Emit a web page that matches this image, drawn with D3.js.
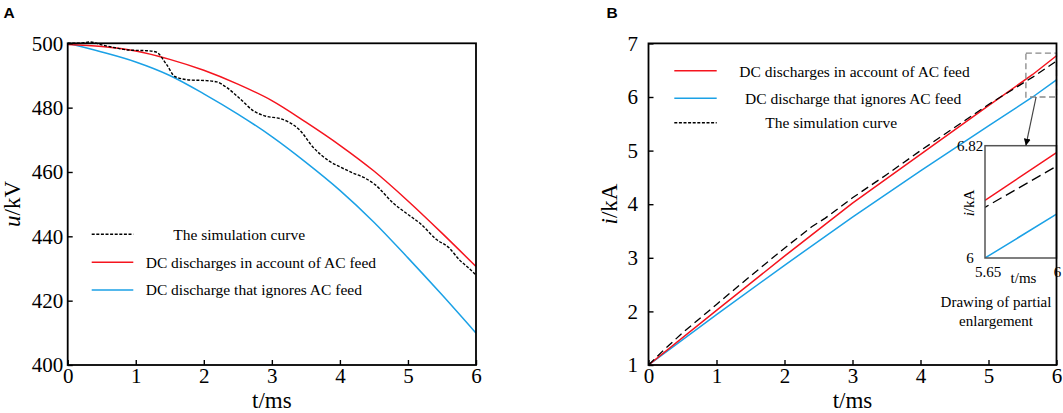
<!DOCTYPE html>
<html>
<head>
<meta charset="utf-8">
<script src="https://cdn.jsdelivr.net/npm/d3@7"></script>
<style>
  html, body { margin: 0; padding: 0; background: #fff; }
  svg { display: block; }
  text { font-family: "Liberation Serif", "Times New Roman", serif; fill: #000; }
</style>
</head>
<body>
<svg id="chart" width="1063" height="413"></svg>
<script>
// ---------------- DATA ----------------
// Panel A: voltage u (kV) vs t (ms)
const tA = [0, 0.5, 1, 1.5, 2, 2.5, 3, 3.5, 4, 4.5, 5, 5.5, 6];
const uWithAC = [499.6, 499.0, 497.6, 495.0, 491.6, 487.3, 482.2, 475.5, 468.3, 460.3, 451.0, 441.0, 430.6];
const uIgnoreAC = [500.0, 497.3, 494.2, 490.0, 484.3, 478.0, 471.0, 463.0, 454.3, 444.4, 433.3, 421.8, 409.9];
const tSimA = [0, 0.15, 0.33, 0.5, 0.7, 0.9, 1.16, 1.3, 1.45, 1.58, 1.8, 2.04, 2.19, 2.34, 2.53, 2.73, 2.92, 3.12, 3.25, 3.41, 3.61, 3.85, 4.0, 4.2, 4.35, 4.52, 4.78, 5.0, 5.18, 5.42, 5.6, 5.76, 5.9, 6.0];
const uSim = [500.0, 500.0, 500.4, 499.5, 498.6, 497.9, 497.7, 497.3, 493.5, 489.6, 488.6, 488.4, 488.0, 486.2, 482.8, 479.0, 477.3, 476.6, 475.5, 473.0, 467.6, 463.3, 461.6, 459.6, 458.3, 456.0, 450.4, 446.8, 444.0, 439.0, 436.5, 432.6, 430.0, 428.0];

// Panel B: current i (kA) vs t (ms)
const tB = [0, 1, 2, 3, 4, 5, 5.65, 6];
const iWithAC = [1.0, 2.02, 3.03, 4.02, 4.93, 5.84, 6.42, 6.77];
const iIgnoreAC = [1.0, 1.94, 2.86, 3.76, 4.62, 5.46, 6.0, 6.32];
const tSimB = [0, 0.2, 0.5, 1, 1.5, 2, 2.4, 2.6, 3, 3.5, 4, 4.5, 5, 5.65, 6];
const iSim = [1.0, 1.25, 1.6, 2.13, 2.66, 3.18, 3.58, 3.74, 4.12, 4.55, 5.0, 5.43, 5.86, 6.37, 6.67];

// Ticks
const tTicks = [0, 1, 2, 3, 4, 5, 6];
const uTicks = [400, 420, 440, 460, 480, 500];
const iTicks = [1, 2, 3, 4, 5, 6, 7];
const insetTTicks = [5.65, 6];
const insetITicks = [6, 6.82];
const zoomBoxT = [5.55, 6];
const zoomBoxI = [6, 6.82];

// Legends
const legendA = ["The simulation curve", "DC discharges in account of AC feed", "DC discharge that ignores AC feed"];
const legendB = ["DC discharges in account of AC feed", "DC discharge that ignores AC feed", "The simulation curve"];

// ---------------- DRAW ----------------
const RED = "#f5141e", BLUE = "#1ba1e6";
const svg = d3.select("#chart");
const defs = svg.append("defs");
defs.append("marker").attr("id", "arrow").attr("viewBox", "0 0 10 10")
  .attr("refX", 10).attr("refY", 5).attr("markerWidth", 7).attr("markerHeight", 7)
  .attr("orient", "auto-start-reverse").attr("markerUnits", "userSpaceOnUse")
  .append("path").attr("d", "M0,0 L10,5 L0,10 z").attr("fill", "#000");

function zip(ts, vs) { return ts.map((t, k) => [t, vs[k]]); }

function drawAxes(g, x, y, yTicks, ySpacing) {
  const [x0, x1] = x.range(), [y0, y1] = y.range();
  const xa = g.append("g").attr("transform", `translate(0,${y0})`)
    .call(d3.axisBottom(x).tickValues(tTicks).tickSizeInner(-5).tickSizeOuter(0).tickPadding(3).tickFormat(d3.format("d")));
  const ya = g.append("g").attr("transform", `translate(${x0},0)`)
    .call(d3.axisLeft(y).tickValues(yTicks).tickSizeInner(-5).tickSizeOuter(0).tickPadding(ySpacing).tickFormat(d3.format("d")));
  [xa, ya].forEach(a => {
    a.select(".domain").remove();
    a.selectAll("line").attr("stroke", "#000").attr("stroke-width", 1.4);
    a.selectAll("text").attr("font-family", "Liberation Serif").attr("font-size", 21).attr("fill", "#000");
  });
  g.append("rect").attr("x", x0).attr("y", y1).attr("width", x1 - x0).attr("height", y0 - y1)
    .attr("fill", "none").attr("stroke", "#000").attr("stroke-width", 1.8);
}

// ----- Panel A -----
const xA = d3.scaleLinear().domain([0, 6]).range([67.7, 476]);
const yA = d3.scaleLinear().domain([400, 500]).range([365, 43.3]);
const gA = svg.append("g");
defs.append("clipPath").attr("id", "clipA").append("rect")
  .attr("x", 67.7).attr("y", 38).attr("width", 408.3).attr("height", 327);
const lineA = d3.line().x(d => xA(d[0])).y(d => yA(d[1])).curve(d3.curveMonotoneX);
const cA = gA.append("g").attr("clip-path", "url(#clipA)");
cA.append("path").attr("d", lineA(zip(tA, uIgnoreAC))).attr("fill", "none").attr("stroke", BLUE).attr("stroke-width", 1.5);
cA.append("path").attr("d", lineA(zip(tA, uWithAC))).attr("fill", "none").attr("stroke", RED).attr("stroke-width", 1.5);
cA.append("path").attr("d", lineA(zip(tSimA, uSim))).attr("fill", "none").attr("stroke", "#000").attr("stroke-width", 1.4).attr("stroke-dasharray", "3,1.6");
drawAxes(gA, xA, yA, uTicks, 4.4);

// Legend A
const legA = gA.append("g");
const legAStyles = [{c: "#000", dash: "3,1.6"}, {c: RED, dash: null}, {c: BLUE, dash: null}];
const legAY = [234.3, 262.3, 290];
const legATextX = [173.3, 145.7, 145.7];
legendA.forEach((name, k) => {
  legA.append("line").attr("x1", 91.7).attr("x2", 133.3).attr("y1", legAY[k]).attr("y2", legAY[k])
    .attr("stroke", legAStyles[k].c).attr("stroke-width", 1.5).attr("stroke-dasharray", legAStyles[k].dash);
  legA.append("text").attr("x", legATextX[k]).attr("y", legAY[k] + 5.3).attr("font-size", 15.5).text(name);
});

// Axis titles A
gA.append("text").attr("x", 271.9).attr("y", 408).attr("text-anchor", "middle").attr("font-size", 23).text("t/ms");
gA.append("text").attr("transform", "translate(20,204) rotate(-90)").attr("text-anchor", "middle").attr("font-size", 23)
  .call(t => { t.append("tspan").attr("font-style", "italic").text("u"); t.append("tspan").text("/kV"); });

// Panel label A
svg.append("text").attr("x", 3.5).attr("y", 18.3).attr("font-family", "Liberation Sans, Arial, sans-serif")
  .attr("font-weight", "bold").attr("font-size", 15.5).style("font-family", "'Liberation Sans', Arial, sans-serif").text("A");

// ----- Panel B -----
const xB = d3.scaleLinear().domain([0, 6]).range([648.5, 1056.5]);
const yB = d3.scaleLinear().domain([1, 7]).range([365, 43.4]);
const gB = svg.append("g");
defs.append("clipPath").attr("id", "clipB").append("rect")
  .attr("x", 648.5).attr("y", 43.4).attr("width", 408).attr("height", 321.6);
const lineB = d3.line().x(d => xB(d[0])).y(d => yB(d[1]));
const cB = gB.append("g").attr("clip-path", "url(#clipB)");
cB.append("path").attr("d", lineB(zip(tB, iIgnoreAC))).attr("fill", "none").attr("stroke", BLUE).attr("stroke-width", 1.5);
cB.append("path").attr("d", lineB(zip(tB, iWithAC))).attr("fill", "none").attr("stroke", RED).attr("stroke-width", 1.5);
cB.append("path").attr("d", lineB(zip(tSimB, iSim))).attr("fill", "none").attr("stroke", "#000").attr("stroke-width", 1.3).attr("stroke-dasharray", "8,4.5");

// Zoom box
gB.append("rect").attr("x", xB(zoomBoxT[0])).attr("y", yB(zoomBoxI[1]))
  .attr("width", xB(zoomBoxT[1]) - xB(zoomBoxT[0])).attr("height", yB(zoomBoxI[0]) - yB(zoomBoxI[1]))
  .attr("fill", "none").attr("stroke", "#888").attr("stroke-width", 1.3).attr("stroke-dasharray", "6,3.5");

// Inset
const xI = d3.scaleLinear().domain([insetTTicks[0], insetTTicks[1]]).range([985, 1056.5]);
const yI = d3.scaleLinear().domain([insetITicks[0], insetITicks[1]]).range([258, 145.7]);
const gI = gB.append("g");
gI.append("rect").attr("x", 985).attr("y", 145.7).attr("width", 71.5).attr("height", 112.3).attr("fill", "#fff");
defs.append("clipPath").attr("id", "clipI").append("rect").attr("x", 985).attr("y", 145.7).attr("width", 71.5).attr("height", 112.3);
const lineI = d3.line().x(d => xI(d[0])).y(d => yI(d[1]));
const cI = gI.append("g").attr("clip-path", "url(#clipI)");
cI.append("path").attr("d", lineI(zip(tB, iIgnoreAC))).attr("fill", "none").attr("stroke", BLUE).attr("stroke-width", 1.5);
cI.append("path").attr("d", lineI(zip(tB, iWithAC))).attr("fill", "none").attr("stroke", RED).attr("stroke-width", 1.5);
cI.append("path").attr("d", lineI(zip(tSimB, iSim))).attr("fill", "none").attr("stroke", "#000").attr("stroke-width", 1.3).attr("stroke-dasharray", "10,5");
gI.append("rect").attr("x", 985).attr("y", 145.7).attr("width", 71.5).attr("height", 112.3)
  .attr("fill", "none").attr("stroke", "#555").attr("stroke-width", 1.5);
insetITicks.forEach(v => gI.append("text").attr("x", 970).attr("y", yI(v) + 5).attr("text-anchor", "middle").attr("font-size", 15).text(v));
insetTTicks.forEach(v => gI.append("text").attr("x", xI(v) + (v === 6 ? 1 : 3)).attr("y", 277).attr("text-anchor", "middle").attr("font-size", 15).text(v));
gI.append("text").attr("x", 1023.5).attr("y", 282.5).attr("text-anchor", "middle").attr("font-size", 15).text("t/ms");
gI.append("text").attr("transform", "translate(973.5,203) rotate(-90)").attr("text-anchor", "middle").attr("font-size", 15)
  .call(t => { t.append("tspan").attr("font-style", "italic").text("i"); t.append("tspan").text("/kA"); });
gI.append("text").attr("x", 996).attr("y", 307).attr("text-anchor", "middle").attr("font-size", 15).text("Drawing of partial");
gI.append("text").attr("x", 996).attr("y", 325.5).attr("text-anchor", "middle").attr("font-size", 15).text("enlargement");

// Arrow from zoom box to inset
gB.append("line").attr("x1", xB(5.7)).attr("y1", yB(zoomBoxI[0]))
  .attr("x2", xI(5.85)).attr("y2", yI(insetITicks[1]))
  .attr("stroke", "#444").attr("stroke-width", 1.2).attr("marker-end", "url(#arrow)");

drawAxes(gB, xB, yB, iTicks, 10.5);

// Legend B
const legB = gB.append("g");
const legBStyles = [{c: RED, dash: null}, {c: BLUE, dash: null}, {c: "#000", dash: "3,1.6"}];
const legBY = [70.7, 98.3, 122.7];
const legBTextX = [739.3, 745, 765.3];
const legBBase = [76.7, 104.3, 127.7];
legendB.forEach((name, k) => {
  legB.append("line").attr("x1", 674.3).attr("x2", 716.7).attr("y1", legBY[k]).attr("y2", legBY[k])
    .attr("stroke", legBStyles[k].c).attr("stroke-width", 1.5).attr("stroke-dasharray", legBStyles[k].dash);
  legB.append("text").attr("x", legBTextX[k]).attr("y", legBBase[k]).attr("font-size", 15.5).text(name);
});

// Axis titles B
gB.append("text").attr("x", 852.5).attr("y", 408).attr("text-anchor", "middle").attr("font-size", 23).text("t/ms");
gB.append("text").attr("transform", "translate(617,204) rotate(-90)").attr("text-anchor", "middle").attr("font-size", 23)
  .call(t => { t.append("tspan").attr("font-style", "italic").text("i"); t.append("tspan").text("/kA"); });

svg.append("text").attr("x", 606.5).attr("y", 17.5)
  .attr("font-weight", "bold").attr("font-size", 15.5).style("font-family", "'Liberation Sans', Arial, sans-serif").text("B");
</script>
</body>
</html>
